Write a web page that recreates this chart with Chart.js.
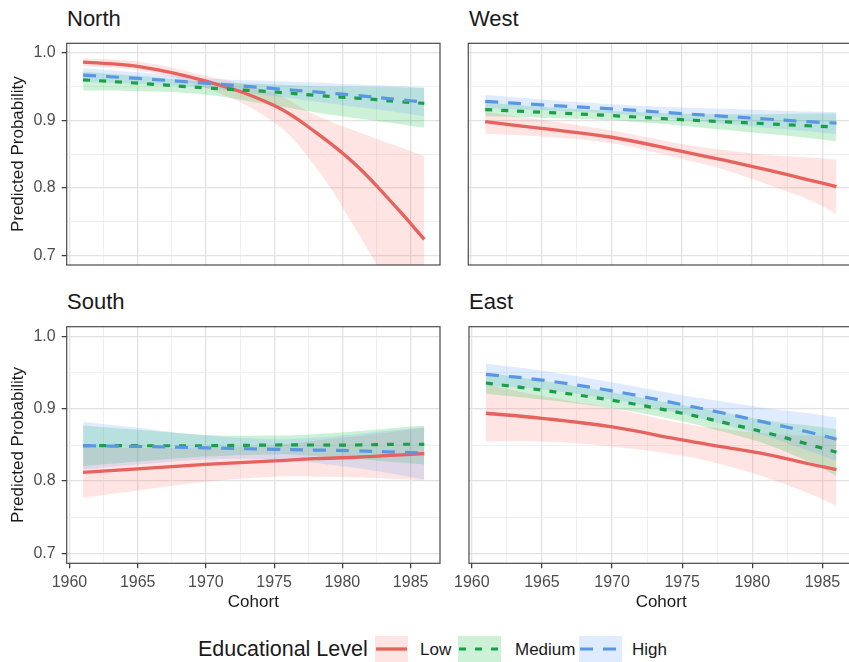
<!DOCTYPE html>
<html><head><meta charset="utf-8">
<script src="https://cdn.jsdelivr.net/npm/chart.js@4.4.1/dist/chart.umd.min.js"></script>
<style>
html,body{margin:0;padding:0;background:#fff;}
body{width:849px;height:662px;overflow:hidden;position:relative;font-family:"Liberation Sans",Arial,Helvetica,sans-serif;}
canvas{position:absolute;}
.t{position:absolute;white-space:nowrap;line-height:1;color:#1a1a1a;}
.key{position:absolute;}
</style></head><body>
<div class="t" style="left:67px;top:8px;font-size:22px">North</div>
<div class="t" style="left:469px;top:8px;font-size:22px">West</div>
<div class="t" style="left:67px;top:291px;font-size:22px">South</div>
<div class="t" style="left:469px;top:291px;font-size:22px">East</div>

<canvas id="cNorth" width="446" height="262" style="left:0px;top:23px"></canvas>
<canvas id="cWest" width="420" height="262" style="left:440px;top:23px"></canvas>
<canvas id="cSouth" width="446" height="309" style="left:0px;top:306px"></canvas>
<canvas id="cEast" width="420" height="309" style="left:440px;top:306px"></canvas>

<div id="legend"></div>

<script>
// ---------- data ----------
const cohorts = [1961, 1965, 1970, 1975, 1978, 1981, 1984, 1986];
const levels = ['Low', 'Medium', 'High'];
const legendTitle = 'Educational Level';
const xMajorTicks = [1960, 1965, 1970, 1975, 1980, 1985];
const xMinorTicks = [1962.5, 1967.5, 1972.5, 1977.5, 1982.5];
const yMajorTicks = [0.7, 0.8, 0.9, 1.0];
const yMinorTicks = [0.75, 0.85, 0.95];

// North
const north_low     = [0.986, 0.980, 0.958, 0.922, 0.883, 0.834, 0.770, 0.724];
const north_low_lo  = [0.980, 0.974, 0.948, 0.897, 0.832, 0.738, 0.632, 0.560];
const north_low_hi  = [0.992, 0.987, 0.966, 0.940, 0.908, 0.884, 0.862, 0.847];
const north_med     = [0.960, 0.955, 0.948, 0.942, 0.937, 0.933, 0.928, 0.925];
const north_med_lo  = [0.944, 0.943, 0.938, 0.922, 0.912, 0.903, 0.895, 0.889];
const north_med_hi  = [0.972, 0.966, 0.957, 0.953, 0.951, 0.950, 0.949, 0.948];
const north_high    = [0.967, 0.962, 0.955, 0.947, 0.942, 0.937, 0.931, 0.927];
const north_high_lo = [0.957, 0.954, 0.948, 0.936, 0.928, 0.920, 0.912, 0.906];
const north_high_hi = [0.977, 0.971, 0.962, 0.958, 0.956, 0.953, 0.951, 0.949];
// West
const west_low     = [0.898, 0.888, 0.875, 0.854, 0.841, 0.827, 0.812, 0.802];
const west_low_lo  = [0.880, 0.876, 0.866, 0.843, 0.827, 0.806, 0.783, 0.762];
const west_low_hi  = [0.912, 0.901, 0.885, 0.865, 0.856, 0.849, 0.845, 0.842];
const west_med     = [0.916, 0.912, 0.907, 0.901, 0.898, 0.895, 0.892, 0.890];
const west_med_lo  = [0.906, 0.904, 0.900, 0.892, 0.886, 0.880, 0.874, 0.869];
const west_med_hi  = [0.926, 0.920, 0.914, 0.910, 0.909, 0.909, 0.910, 0.910];
const west_high    = [0.928, 0.923, 0.917, 0.910, 0.906, 0.902, 0.898, 0.896];
const west_high_lo = [0.918, 0.915, 0.910, 0.901, 0.895, 0.889, 0.884, 0.880];
const west_high_hi = [0.938, 0.931, 0.924, 0.919, 0.917, 0.915, 0.913, 0.912];
// South
const south_low     = [0.812, 0.817, 0.823, 0.828, 0.831, 0.833, 0.836, 0.838];
const south_low_lo  = [0.777, 0.787, 0.799, 0.806, 0.806, 0.805, 0.803, 0.801];
const south_low_hi  = [0.847, 0.846, 0.846, 0.850, 0.856, 0.862, 0.869, 0.874];
const south_med     = [0.849, 0.849, 0.849, 0.850, 0.850, 0.850, 0.851, 0.851];
const south_med_lo  = [0.821, 0.827, 0.834, 0.837, 0.835, 0.831, 0.826, 0.823];
const south_med_hi  = [0.877, 0.871, 0.864, 0.863, 0.865, 0.869, 0.874, 0.877];
const south_high    = [0.849, 0.848, 0.846, 0.844, 0.843, 0.842, 0.840, 0.839];
const south_high_lo = [0.816, 0.823, 0.830, 0.830, 0.825, 0.818, 0.809, 0.802];
const south_high_hi = [0.882, 0.874, 0.863, 0.858, 0.860, 0.865, 0.871, 0.875];
// East
const east_low     = [0.894, 0.887, 0.875, 0.857, 0.847, 0.837, 0.824, 0.816];
const east_low_lo  = [0.855, 0.855, 0.848, 0.835, 0.822, 0.805, 0.783, 0.766];
const east_low_hi  = [0.934, 0.918, 0.901, 0.880, 0.872, 0.866, 0.863, 0.862];
const east_med     = [0.936, 0.926, 0.912, 0.894, 0.881, 0.867, 0.851, 0.840];
const east_med_lo  = [0.921, 0.913, 0.901, 0.883, 0.868, 0.851, 0.827, 0.807];
const east_med_hi  = [0.950, 0.939, 0.923, 0.905, 0.895, 0.884, 0.877, 0.872];
const east_high    = [0.948, 0.940, 0.925, 0.906, 0.894, 0.881, 0.868, 0.858];
const east_high_lo = [0.932, 0.927, 0.913, 0.893, 0.878, 0.862, 0.842, 0.828];
const east_high_hi = [0.963, 0.953, 0.937, 0.919, 0.910, 0.901, 0.894, 0.888];

// ---------- styles ----------
const FONT = '"Liberation Sans", Arial, Helvetica, sans-serif';
const lineColors = ['#E5625D', '#1A9F48', '#5A97E3'];
const fillColors = ['rgba(248,118,109,0.2)', 'rgba(0,186,56,0.2)', 'rgba(97,156,255,0.2)'];
const lineWidths = [3.3, 3.2, 3.2];
const dashes = [[], [7, 9], [13, 10]];

const regions = {
  North: {Low: [north_low, north_low_lo, north_low_hi], Medium: [north_med, north_med_lo, north_med_hi], High: [north_high, north_high_lo, north_high_hi]},
  West:  {Low: [west_low, west_low_lo, west_low_hi], Medium: [west_med, west_med_lo, west_med_hi], High: [west_high, west_high_lo, west_high_hi]},
  South: {Low: [south_low, south_low_lo, south_low_hi], Medium: [south_med, south_med_lo, south_med_hi], High: [south_high, south_high_lo, south_high_hi]},
  East:  {Low: [east_low, east_low_lo, east_low_hi], Medium: [east_med, east_med_lo, east_med_hi], High: [east_high, east_high_lo, east_high_hi]}
};

function pts(arr) { return cohorts.map((c, i) => ({x: c, y: arr[i]})); }

const TENSION = 0.4;
function buildDatasets(region) {
  const ds = [];
  levels.forEach((lv, i) => {
    const [, lo, hi] = region[lv];
    ds.push({label: lv + ' lower', data: pts(lo), borderWidth: 0, borderColor: 'rgba(0,0,0,0)',
      pointRadius: 0, fill: false, order: 31 - i * 10, tension: TENSION, clip: 0});
    ds.push({label: lv + ' upper', data: pts(hi), borderWidth: 0, borderColor: 'rgba(0,0,0,0)',
      pointRadius: 0, fill: '-1', backgroundColor: fillColors[i], order: 30 - i * 10,
      tension: TENSION, clip: 0});
  });
  levels.forEach((lv, i) => {
    ds.push({label: lv, data: pts(region[lv][0]), borderColor: lineColors[i], borderWidth: lineWidths[i],
      borderDash: dashes[i], pointRadius: 0, fill: false, order: 3 - i,
      tension: TENSION, clip: 0});
  });
  return ds;
}

const panelBorder = {
  id: 'panelBorder',
  afterDraw(chart) {
    const {ctx, chartArea: a} = chart;
    ctx.save();
    ctx.strokeStyle = '#4a4a4a';
    ctx.lineWidth = 1.2;
    ctx.strokeRect(a.left, a.top, a.right - a.left, a.bottom - a.top);
    ctx.restore();
  }
};

function makePanel(name, o) {
  const isMajX = v => xMajorTicks.includes(v);
  const isMajY = v => yMajorTicks.includes(v);
  const gridOpts = (isMaj, drawTicks) => ({
    color: c => (c.tick && !isMaj(c.tick.value)) ? '#EEEEEE' : '#E2E2E2',
    lineWidth: c => (c.tick && !isMaj(c.tick.value)) ? 0.9 : 1.3,
    drawTicks: drawTicks,
    tickLength: 5,
    tickWidth: 1.2,
    tickColor: c => (c.tick && !isMaj(c.tick.value)) ? 'rgba(0,0,0,0)' : '#333333'
  });
  new Chart(document.getElementById('c' + name), {
    type: 'line',
    data: {datasets: buildDatasets(regions[name])},
    options: {
      responsive: false, animation: false, events: [],
      layout: {padding: o.padding},
      plugins: {legend: {display: false}, tooltip: {enabled: false}, title: {display: false}},
      scales: {
        x: {
          type: 'linear', min: o.xMin, max: o.xMax,
          border: {display: false},
          grid: gridOpts(isMajX, o.showX),
          afterBuildTicks: s => { s.ticks = [...xMajorTicks, ...xMinorTicks].sort((a, b) => a - b).map(v => ({value: v})); },
          afterFit: s => { s.height = o.xHeight; },
          ticks: {display: o.showX, autoSkip: false, maxRotation: 0, minRotation: 0, padding: 5,
            color: '#4d4d4d', font: {family: FONT, size: 16},
            callback: v => isMajX(v) ? String(v) : ''},
          title: {display: o.showX, text: 'Cohort', color: '#1a1a1a', font: {family: FONT, size: 17},
            padding: {top: 0, bottom: 0}}
        },
        y: {
          type: 'linear', min: 0.686, max: 1.014,
          border: {display: false},
          grid: gridOpts(isMajY, o.showY),
          afterBuildTicks: s => { s.ticks = [...yMajorTicks, ...yMinorTicks].sort((a, b) => a - b).map(v => ({value: v})); },
          afterFit: s => { s.width = o.yWidth; },
          ticks: {display: o.showY, autoSkip: false, padding: 6, color: '#4d4d4d',
            font: {family: FONT, size: 16},
            callback: v => isMajY(v) ? v.toFixed(1) : ''},
          title: {display: o.showY, text: 'Predicted Probability', color: '#1a1a1a',
            font: {family: FONT, size: 17}, padding: {top: 8, bottom: 0}}
        }
      }
    },
    plugins: [panelBorder]
  });
}

makePanel('North', {padding: {left: 0, top: 20.3, right: 6, bottom: 20}, yWidth: 66.7, xHeight: 0,
  showX: false, showY: true, xMin: 1959.8, xMax: 1987.15});
makePanel('West', {padding: {left: 28.3, top: 20.3, right: 6.7, bottom: 20}, yWidth: 0, xHeight: 0,
  showX: false, showY: false, xMin: 1959.8, xMax: 1987.2});
makePanel('South', {padding: {left: 0, top: 20.7, right: 6, bottom: 2.4}, yWidth: 66.7, xHeight: 49.3,
  showX: true, showY: true, xMin: 1959.8, xMax: 1987.15});
makePanel('East', {padding: {left: 29, top: 20.7, right: 6.7, bottom: 2.4}, yWidth: 0, xHeight: 49.3,
  showX: true, showY: false, xMin: 1959.8, xMax: 1987.2});

// ---------- legend ----------
(function () {
  const lg = document.getElementById('legend');
  const keyPos = [{left: 375, width: 33}, {left: 458, width: 43}, {left: 579, width: 43}];
  const labelPos = [420, 515, 632];
  let html = '<div class="t" style="left:198px;top:639px;font-size:21.5px">' + legendTitle + '</div>';
  levels.forEach((lv, i) => {
    const k = keyPos[i];
    html += '<svg class="key" width="' + k.width + '" height="26" style="left:' + k.left + 'px;top:636px">' +
      '<rect x="0" y="0" width="' + k.width + '" height="26" fill="' + fillColors[i] + '"/>' +
      '<line x1="1" y1="13" x2="' + (k.width - 1) + '" y2="13" stroke="' + lineColors[i] + '" stroke-width="' + lineWidths[i] + '"' +
      (dashes[i].length ? ' stroke-dasharray="' + dashes[i].join(',') + '"' : '') + '/></svg>';
    html += '<div class="t" style="left:' + labelPos[i] + 'px;top:641px;font-size:17px">' + lv + '</div>';
  });
  lg.innerHTML = html;
})();
</script>
</body></html>
